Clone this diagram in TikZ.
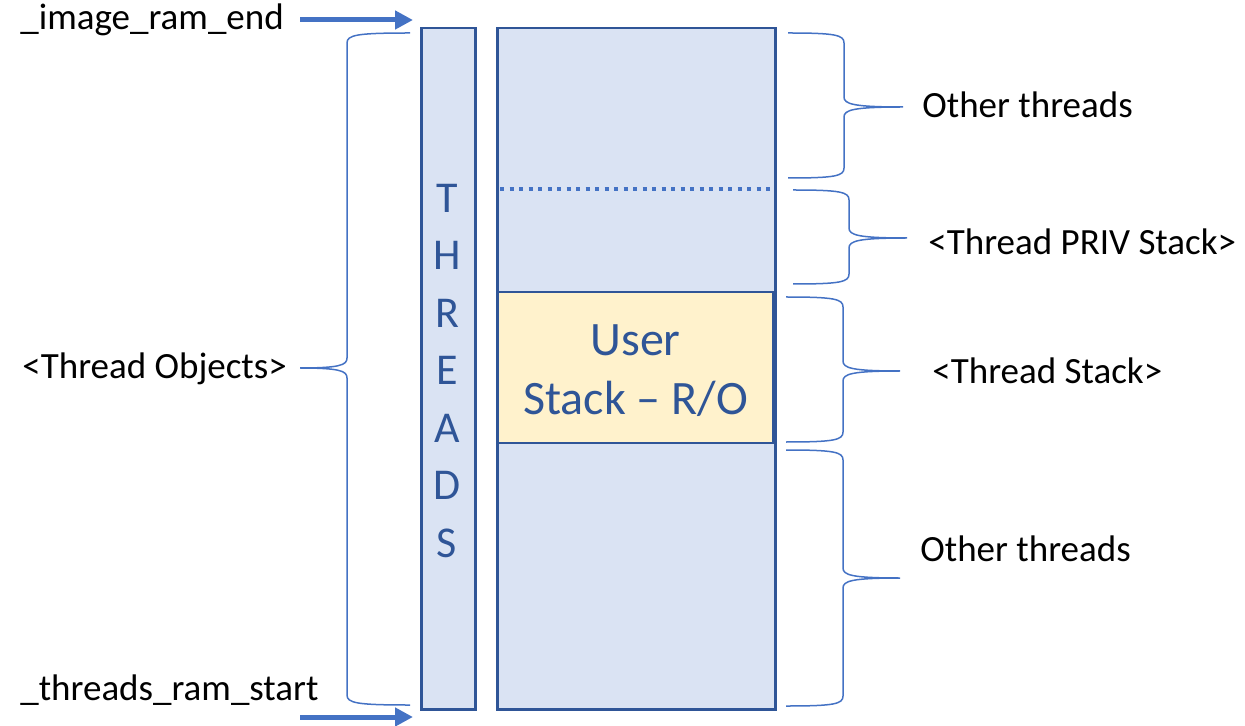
\documentclass[tikz,border=0pt]{standalone}
\usepackage{fontspec}
\setmainfont{Carlito}
\usetikzlibrary{arrows.meta}
\definecolor{fillblue}{HTML}{DAE3F3}
\definecolor{edgeblue}{HTML}{2F5597}
\definecolor{lineblue}{HTML}{4472C4}
\definecolor{fillyellow}{HTML}{FFF2CC}

% curly brace: #1 end x, #2 spine x, #3 tip x, #4 top y, #5 tip y, #6 bottom y
\newcommand{\membrace}[6]{%
  \draw[bracestyle]
    (#1,#4) .. controls ({#2+0.15*(#1-#2)},#4) and (#2,{#4+2}) .. (#2,{#4+10})
    -- (#2,{#5-10}) .. controls (#2,{#5-3}) and ({#2+0.15*(#3-#2)},#5) .. (#3,#5)
    .. controls ({#2+0.15*(#3-#2)},#5) and (#2,{#5+3}) .. (#2,{#5+10})
    -- (#2,{#6-10}) .. controls (#2,{#6-2}) and ({#2+0.15*(#1-#2)},#6) .. (#1,#6);}

\begin{document}
\begin{tikzpicture}[x=0.5pt,y=-0.5pt,
  memblock/.style={draw=edgeblue,fill=fillblue,line width=1.25pt,inner sep=0pt,anchor=north west},
  stackblock/.style={draw=edgeblue,fill=fillyellow,line width=1.25pt,inner sep=0pt},
  bracestyle/.style={draw=lineblue,line width=0.75pt},
  label/.style={inner sep=0pt,anchor=west,text=black,font=\fontsize{18.5}{22}\selectfont},
  pointer/.style={draw=lineblue,line width=2.5pt,-{Triangle[length=9pt,width=9pt]}},
  blocktext/.style={text=edgeblue,align=center}]
\useasboundingbox (0,0) rectangle (1245,726);

% memory columns
\node[memblock,minimum width=27pt,minimum height=340.5pt] (bar) at (420,27) {};
\node[memblock,minimum width=139pt,minimum height=340.5pt] (col) at (496,27) {};
\draw[lineblue,line width=2pt,dash pattern=on 2pt off 2.75pt] (500,189) -- (772,189);
\node[stackblock,minimum width=137.5pt,minimum height=75.5pt] (ustack) at (635.5,367.5) {};
\node[blocktext,font=\fontsize{24}{29.5}\selectfont] (ustacktext) at (635.5,371) {User\\Stack -- R/O};
\node[blocktext,font=\fontsize{22}{28.75}\selectfont] (threads) at (447,371) {T\\H\\R\\E\\A\\D\\S};

% labels
\node[label] (imgend) at (20,20) {\_image\_ram\_end};
\node[label] (thrstart) at (20,690) {\_threads\_ram\_start};
\node[label] (throbj) at (22,369) {<Thread Objects>};
\node[label] (other1) at (922,105) {Other threads};
\node[label] (priv) at (928,242) {<Thread PRIV Stack>};
\node[label] (tstack) at (932,371) {<Thread Stack>};
\node[label] (other2) at (920,549) {Other threads};

% address pointers
\coordinate (topfrom) at (300,20);
\coordinate (topto) at (413,20);
\coordinate (botfrom) at (300,717);
\coordinate (botto) at (413,717);
\draw[pointer] (topfrom) -- (topto);
\draw[pointer] (botfrom) -- (botto);

% braces
\membrace{410}{347}{300}{33}{368}{705}
\membrace{788}{844}{903}{33}{107}{178}
\membrace{793}{849}{907}{190}{238}{284}
\membrace{786}{843}{900}{297}{371}{442}
\membrace{786}{843}{900}{450}{578}{706}
\end{tikzpicture}
\end{document}
